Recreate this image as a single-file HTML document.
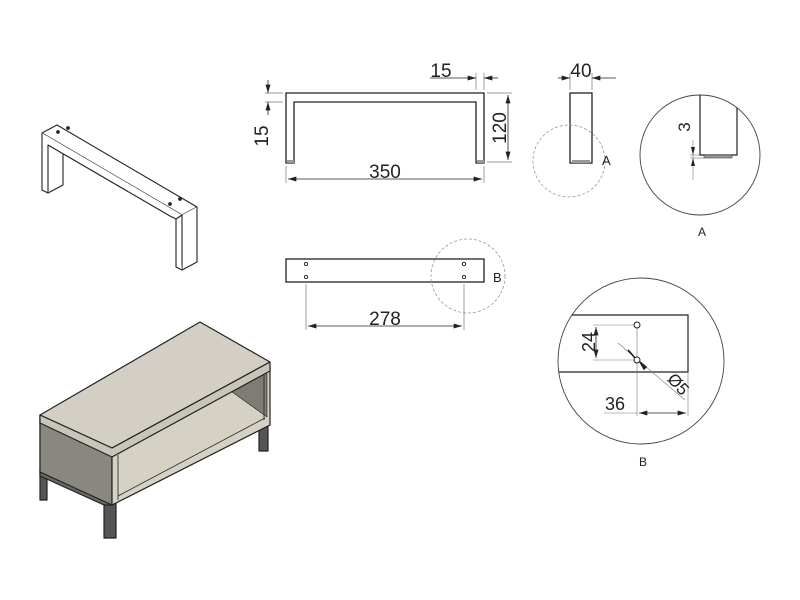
<!DOCTYPE html>
<html><head><style>html,body{margin:0;padding:0;background:#fff}svg{display:block}text{font-family:"Liberation Sans","DejaVu Sans",sans-serif;fill:#222}</style></head>
<body>
<svg width="800" height="600" viewBox="0 0 800 600" xmlns="http://www.w3.org/2000/svg">
<defs>
<marker id="ar" viewBox="0 0 10 6" refX="10" refY="3" markerWidth="9" markerHeight="5" orient="auto-start-reverse" markerUnits="userSpaceOnUse"><path d="M0,0 L10,3 L0,6z" fill="#222"/></marker>
<clipPath id="cb"><circle cx="641" cy="361" r="83"/></clipPath>
</defs>
<g fill="none" stroke="#222" stroke-width="1.3">
<path d="M286,163 V93 H484 V163 H476 V102 H294 V163 Z"/>
<rect x="287" y="160" width="7" height="3" fill="#999" stroke="none"/>
<rect x="477" y="160" width="7" height="3" fill="#999" stroke="none"/>
<rect x="570" y="93" width="22" height="70"/>
<rect x="572" y="160" width="18" height="3" fill="#999" stroke="none"/>
<rect x="286" y="259" width="198" height="23"/>
</g>
<g fill="#fff" stroke="#222" stroke-width="0.9">
<circle cx="306" cy="264" r="1.6"/><circle cx="306" cy="277" r="1.6"/>
<circle cx="464" cy="264" r="1.6"/><circle cx="464" cy="277" r="1.6"/>
</g>
<g stroke="#777" stroke-width="0.7" fill="none">
<line x1="286" y1="166" x2="286" y2="183"/><line x1="484" y1="166" x2="484" y2="183"/>
<line x1="476" y1="90" x2="476" y2="73"/><line x1="484" y1="90" x2="484" y2="73"/>
<line x1="265" y1="93" x2="283" y2="93"/><line x1="265" y1="102" x2="283" y2="102"/>
<line x1="487" y1="93" x2="512" y2="93"/><line x1="487" y1="162" x2="512" y2="162"/>
<line x1="570" y1="90" x2="570" y2="73"/><line x1="592" y1="90" x2="592" y2="73"/>
<line x1="306" y1="284" x2="306" y2="330"/><line x1="464" y1="284" x2="464" y2="330"/>
</g>
<g stroke="#222" stroke-width="0.8" fill="none">
<line x1="288" y1="179" x2="482" y2="179" marker-start="url(#ar)" marker-end="url(#ar)"/>
<line x1="430" y1="78" x2="476" y2="78" marker-end="url(#ar)"/><line x1="484" y1="78" x2="498" y2="78" marker-start="url(#ar)"/>
<line x1="268" y1="80" x2="268" y2="93" marker-end="url(#ar)"/><line x1="268" y1="102" x2="268" y2="115" marker-start="url(#ar)"/>
<line x1="508" y1="95" x2="508" y2="160" marker-start="url(#ar)" marker-end="url(#ar)"/>
<line x1="558" y1="78" x2="570" y2="78" marker-end="url(#ar)"/><line x1="592" y1="78" x2="616" y2="78" marker-start="url(#ar)"/>
<line x1="308" y1="326" x2="462" y2="326" marker-start="url(#ar)" marker-end="url(#ar)"/>
</g>
<g font-size="19">
<text x="385" y="178" text-anchor="middle">350</text>
<text x="441" y="77" text-anchor="middle">15</text>
<text x="581" y="77" text-anchor="middle">40</text>
<text x="385" y="325" text-anchor="middle">278</text>
<text transform="translate(268,136) rotate(-90)" text-anchor="middle">15</text>
<text transform="translate(506,128) rotate(-90)" text-anchor="middle">120</text>
</g>
<g stroke="#999" stroke-width="0.8" fill="none" stroke-dasharray="3,2">
<circle cx="569" cy="161" r="36"/>
<circle cx="468" cy="276" r="37"/>
</g>
<text x="602" y="165" font-size="13">A</text>
<text x="493" y="282" font-size="13">B</text>
<!-- detail A -->
<circle cx="700" cy="155" r="60" fill="none" stroke="#444" stroke-width="0.9"/>
<path d="M700,95 V155 H737 V108" fill="none" stroke="#222" stroke-width="1.2"/>
<rect x="704" y="155" width="28" height="3" fill="#999" stroke="#444" stroke-width="0.6"/>
<g stroke="#777" stroke-width="0.6"><line x1="690" y1="155" x2="700" y2="155"/><line x1="690" y1="158" x2="704" y2="158"/><line x1="693" y1="140" x2="693" y2="180"/></g>
<path d="M691,147 L693,155 L695,147z M691,166 L693,158 L695,166z" fill="#222"/>
<text transform="translate(690,127) rotate(-90)" font-size="17" text-anchor="middle">3</text>
<text x="702" y="236" font-size="12" text-anchor="middle">A</text>
<!-- detail B -->
<circle cx="641" cy="361" r="83" fill="none" stroke="#444" stroke-width="0.9"/>
<path d="M550,315 H688 V372 H550" fill="none" stroke="#222" stroke-width="1.2" clip-path="url(#cb)"/>
<g stroke="#777" stroke-width="0.6" fill="none">
<line x1="593" y1="325" x2="634" y2="325"/><line x1="593" y1="360" x2="634" y2="360"/>
<line x1="637" y1="328" x2="637" y2="416"/><line x1="688" y1="372" x2="688" y2="416"/>
<line x1="604" y1="413" x2="637" y2="413"/>
<line x1="618" y1="343" x2="685" y2="400"/>
</g>
<g stroke="#222" stroke-width="0.8" fill="none">
<line x1="596" y1="327" x2="596" y2="358" marker-start="url(#ar)" marker-end="url(#ar)"/>
<line x1="639" y1="413" x2="686" y2="413" marker-start="url(#ar)" marker-end="url(#ar)"/>
</g>
<path d="M628,350 L635,358 L630,352z M646,367 L640,362 L644,369z" fill="#222" stroke="#222" stroke-width="1.5"/>
<g fill="#fff" stroke="#222" stroke-width="1"><circle cx="637" cy="325" r="3"/><circle cx="637" cy="360" r="3"/></g>
<text transform="translate(595,342) rotate(-90)" font-size="18" text-anchor="middle">24</text>
<text x="615" y="410" font-size="18" text-anchor="middle">36</text>
<text transform="translate(674,388) rotate(48)" font-size="17" text-anchor="middle">Ø5</text>
<text x="643" y="466" font-size="12" text-anchor="middle">B</text>
<!-- iso frame -->
<g fill="#fff" stroke="#222" stroke-width="1.1" stroke-linejoin="round">
<path d="M42,133 L57,125 L197,207 L182,215 Z"/>
<path d="M42,133 L42,190 L48,193 L48,145 L170,216 L176,219 L182,215"/>
<path d="M48,193 L63,185 L63,154"/>
<path d="M182,215 L182,270 L197,262 L197,207"/>
<path d="M176,219 L176,267 L182,270"/>
<circle cx="58" cy="132" r="1.3" fill="#222"/><circle cx="68" cy="128" r="1.3" fill="#222"/>
<circle cx="170" cy="204" r="1.3" fill="#222"/><circle cx="180" cy="199" r="1.3" fill="#222"/>
</g>
<!-- iso table -->
<g stroke="#222" stroke-width="1.2" stroke-linejoin="round">
<path d="M40,417 L40,500 L47,500 L47,477 Z" fill="#555"/>
<path d="M104,480 L104,538 L116,538 L116,485 Z" fill="#555"/>
<path d="M259,405 L259,451 L268,451 L268,405 Z" fill="#555"/>
<path d="M40,476 L104,505 L112,505 L112,498 L40,470 Z" fill="#666"/>
<path d="M40,415 L112,448 L112,505 L40,472 Z" fill="#8a8780"/>
<path d="M112,448 L270,367 L270,425 L112,505 Z" fill="#d6d1c5"/>
<path d="M228,389 L267,370 L267,417 Z" fill="#7f7c76" stroke-width="0.6"/>
<path d="M118,496 L265,418" fill="none" stroke-width="0.8"/>
<path d="M118,455 L118,500 M264,375 L264,420" fill="none" stroke-width="0.8"/>
<path d="M40,415 L200,322 L270,362 L112,448 Z" fill="#d3cfc4"/>
<path d="M40,415 L40,423 L112,457 L270,371 L270,362 L112,448 Z" fill="#c9c5b9"/>
</g>
</svg>
</body></html>
